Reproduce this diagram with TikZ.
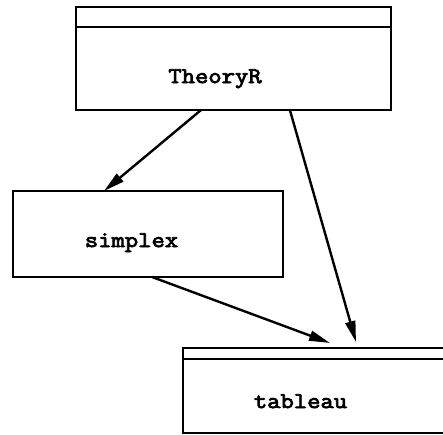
\documentclass[tikz,border=0pt]{standalone}
\usepackage{fontspec}
\newfontfamily\courbold[FakeBold=3.5,FakeStretch=1.15]{Latin Modern Mono}
\usetikzlibrary{arrows.meta,calc}
\begin{document}
\begin{tikzpicture}[x=1pt,y=-1pt,
  box/.style={draw,line width=2.4pt,rectangle,inner sep=0pt,outer sep=0pt},
  lbl/.style={font=\fontsize{22.5}{22.5}\selectfont\courbold,anchor=base,inner sep=0pt},
  hdr/.style={line width=2.2pt},
  dep/.style={-{Triangle[length=21pt,width=10pt]},line width=2.4pt}]
\useasboundingbox (0,0) rectangle (443,434);
\clip (0,0) rectangle (443,434);
% boxes
\node[box,minimum width=315pt,minimum height=103pt] (T) at (233.5,58.5) {};
\draw[hdr] ($(T.north west)+(0,20)$) -- ($(T.north east)+(0,20)$);
\node[lbl] (Tl) at (215,83) {TheoryR};
\node[box,minimum width=270pt,minimum height=86pt] (S) at (148,234) {};
\node[lbl] (Sl) at (131.5,247) {simplex};
\node[box,minimum width=287pt,minimum height=85pt] (B) at (326.5,390.5) {};
\draw[hdr] ($(B.north west)+(0,11)$) -- ($(B.north east)+(0,11)$);
\node[lbl] (Bl) at (300.5,408) {tableau};
% connectors
\draw[dep] ($(T.south west)!0.397!(T.south east)$) -- ($(S.north west)!0.337!(S.north east)$);
\draw[dep] ($(T.south west)!0.679!(T.south east)$) -- ($(B.north west)+(173,-6)$);
\draw[dep] ($(S.south west)!0.515!(S.south east)$) -- ($(B.north west)+(147,-5)$);
\end{tikzpicture}
\end{document}
